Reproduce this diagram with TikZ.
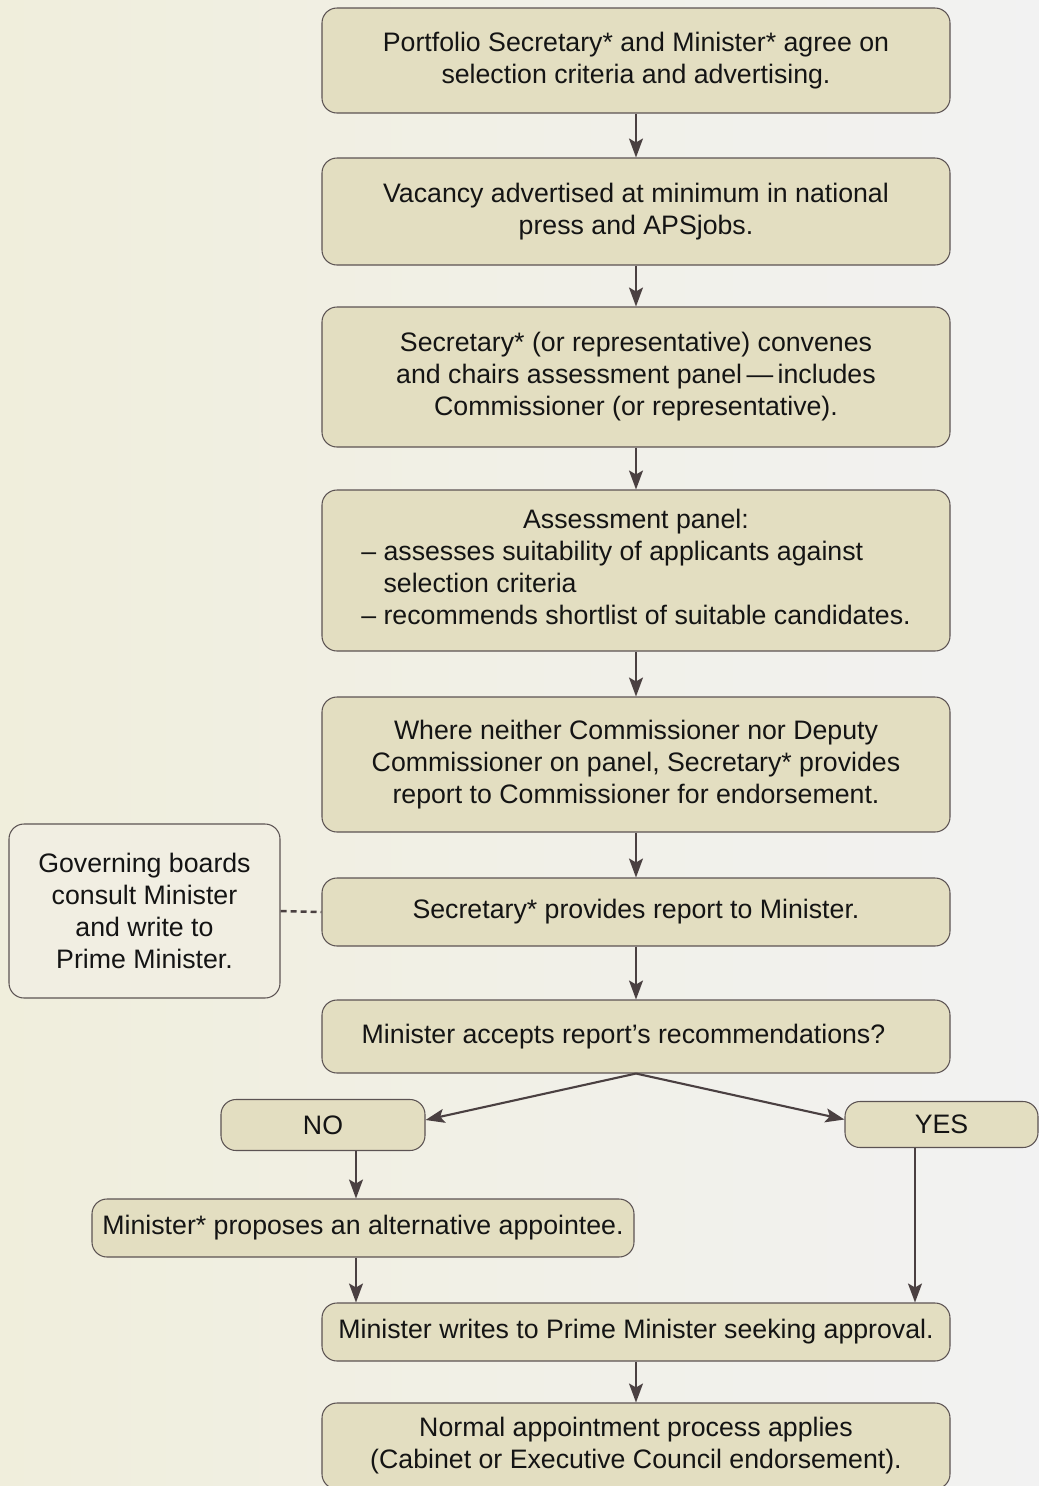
\documentclass[tikz,border=0pt]{standalone}
\usepackage{fontspec}
\setmainfont{Liberation Sans}
\usetikzlibrary{arrows.meta}
\definecolor{boxfill}{HTML}{E3DEC1}
\definecolor{sidefill}{HTML}{F1EEE2}
\definecolor{edge}{HTML}{5C5353}
\definecolor{arrowcol}{HTML}{4A4041}
\definecolor{bgleft}{HTML}{F0EEDC}
\definecolor{bgmid}{HTML}{F1F0EB}
\definecolor{bgright}{HTML}{F2F2F2}
\tikzset{
  stepbox/.style={draw=edge,fill=boxfill,line width=0.6pt,rounded corners=0.3cm,
    align=center,inner sep=0pt,text=black!92,
    font=\fontsize{15.2}{18.2}\selectfont},
  mainbox/.style={stepbox,minimum width=12.56cm},
  sidebox/.style={stepbox,fill=sidefill},
  arr/.style={draw=arrowcol,line width=1.2pt,
    -{Stealth[length=0.38cm,width=0.28cm,inset=0.08cm]}},
}
\begin{document}
\begin{tikzpicture}
  \useasboundingbox (0,0) rectangle (20.78,-29.72);
  \shade[left color=bgleft,middle color=bgmid,right color=bgright] (0,0) rectangle (20.78,-29.72);
  \node[mainbox,minimum height=2.1cm] (agree) at (12.72,-1.21)
    {Portfolio Secretary* and Minister* agree on\\selection criteria and advertising.};
  \node[mainbox,minimum height=2.14cm] (advert) at (12.72,-4.23)
    {Vacancy advertised at minimum in national\\press and APSjobs.};
  \node[mainbox,minimum height=2.8cm] (panel) at (12.72,-7.54)
    {Secretary* (or representative) convenes\\and chairs assessment panel\,—\,includes\\
     Commissioner (or representative).};
  \node[mainbox,minimum height=3.22cm] (assess) at (12.72,-11.41)
    {\begin{tabular}{@{}l@{}}
      \multicolumn{1}{c}{Assessment panel:}\\
      – assesses suitability of applicants against\\
      \hphantom{– }selection criteria\\
      – recommends shortlist of suitable candidates.
     \end{tabular}};
  \node[mainbox,minimum height=2.7cm] (endorse) at (12.72,-15.29)
    {Where neither Commissioner nor Deputy\\Commissioner on panel, Secretary* provides\\
     report to Commissioner for endorsement.};
  \node[mainbox,minimum height=1.36cm] (report) at (12.72,-18.24)
    {Secretary* provides report to Minister.};
  \node[sidebox,minimum width=5.42cm,minimum height=3.48cm] (boards) at (2.89,-18.22)
    {Governing boards\\consult Minister\\and write to\\Prime Minister.};
  \node[mainbox,minimum height=1.46cm] (accept) at (12.72,-20.73)
    {\hspace*{-0.5cm}Minister accepts report’s recommendations?};
  \node[stepbox,minimum width=4.08cm,minimum height=1.02cm] (no) at (6.46,-22.5) {NO};
  \node[stepbox,minimum width=3.86cm,minimum height=0.92cm] (yes) at (18.83,-22.49) {YES};
  \node[stepbox,minimum width=10.84cm,minimum height=1.16cm] (alt) at (7.26,-24.56)
    {Minister* proposes an alternative appointee.};
  \node[mainbox,minimum height=1.16cm] (writes) at (12.72,-26.64)
    {Minister writes to Prime Minister seeking approval.};
  \node[mainbox,minimum height=1.72cm] (normal) at (12.72,-28.92)
    {Normal appointment process applies\\(Cabinet or Executive Council endorsement).};
  \coordinate (noX) at (7.12,0);
  \coordinate (yesX) at (18.3,0);
  \draw[arr] (agree) -- (advert);
  \draw[arr] (advert) -- (panel);
  \draw[arr] (panel) -- (assess);
  \draw[arr] (assess) -- (endorse);
  \draw[arr] (endorse) -- (report);
  \draw[arr] (report) -- (accept);
  \draw[arr] (accept.south) -- ([yshift=0.1cm]no.east);
  \draw[arr] (accept.south) -- ([yshift=0.1cm]yes.west);
  \draw[arr] (no.south -| noX) -- (alt.north -| noX);
  \draw[arr] (alt.south -| noX) -- (writes.north -| noX);
  \draw[arr] (yes.south -| yesX) -- (writes.north -| yesX);
  \draw[arr] (writes) -- (normal);
  \draw[draw=arrowcol,line width=1.4pt,dash pattern=on 0.12cm off 0.08cm] (boards.east) -- (report.west);
\end{tikzpicture}
\end{document}
